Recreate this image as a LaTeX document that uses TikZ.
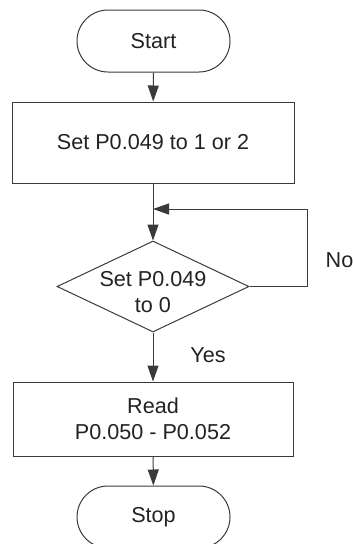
\documentclass[tikz,border=0pt]{standalone}
\usepackage{fontspec}
\setmainfont{Liberation Sans}
\usetikzlibrary{arrows.meta,shapes.misc,shapes.geometric}
\definecolor{linec}{HTML}{3A3A3A}
\definecolor{textc}{HTML}{222222}
\begin{document}
\begin{tikzpicture}[x=1pt,y=-1pt,
  every node/.style={font=\fontsize{21.6}{26}\selectfont, text=textc},
  term/.style={draw=linec, line width=1pt, rounded rectangle, minimum width=153pt, minimum height=62pt, inner sep=0pt},
  procbox/.style={draw=linec, line width=1pt, rectangle, align=center, inner sep=0pt},
  decide/.style={draw=linec, line width=1pt, diamond, inner sep=0pt, minimum width=192pt, minimum height=91pt},
  flow/.style={draw=linec, line width=1pt, -{Triangle[length=16pt,width=11pt]}}]
\useasboundingbox (0,0) rectangle (353,544);
\node[term] (start) at (153.5,41) {Start};
\node[procbox, minimum width=282pt, minimum height=81pt] (set) at (153,142.5) {Set P0.049 to 1 or 2};
\node[decide] (dec) at (153,286.5) {};
\node[align=center] (dectext) at (153,292) {Set P0.049\\to 0};
\node[procbox, minimum width=280pt, minimum height=74pt] (read) at (153,419) {Read\\P0.050 - P0.052};
\node[term] (stop) at (153.5,517) {Stop};
\coordinate (corner1) at (307,286.5);
\coordinate (corner2) at (307,209);
\coordinate (join) at (153,209);
\node (no) at (339.5,260) {No};
\node (yes) at (208,355) {Yes};
\draw[flow] (start) -- (set);
\draw[flow] (set) -- (dec);
\draw[flow] (dec.east) -- (corner1) -- (corner2) -- (join);
\draw[flow] (dec) -- (read);
\draw[flow] (read) -- (stop);
\end{tikzpicture}
\end{document}
